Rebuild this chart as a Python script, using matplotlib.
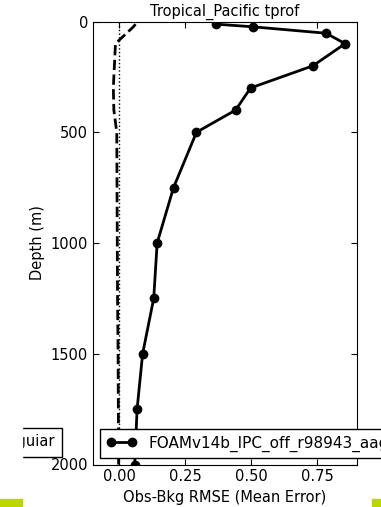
import numpy as np
import matplotlib
matplotlib.use("Agg")
import matplotlib.pyplot as plt
from matplotlib.patches import Rectangle

# depth levels (m) and statistics
depth = [12, 24, 53, 100, 200, 300, 400, 500, 750, 1000, 1250, 1500, 1750, 2000]
rmse = [0.367, 0.506, 0.783, 0.855, 0.733, 0.497, 0.44, 0.292, 0.205, 0.143,
        0.13, 0.088, 0.067, 0.058]
mean_err = [0.061, 0.053, 0.027, -0.015, -0.019, -0.023, -0.021, -0.01,
            -0.009, -0.008, -0.007, -0.005, -0.004, -0.003]
run_label = "FOAMv14b_IPC_off_r98943_aaguiar"
xticks = [0.0, 0.25, 0.5, 0.75]
yticks = [0, 500, 1000, 1500, 2000]

plt.rcParams['font.size'] = 10.5
plt.rcParams['xtick.direction'] = 'in'
plt.rcParams['ytick.direction'] = 'in'
plt.rcParams['xtick.top'] = True
plt.rcParams['ytick.right'] = True

fig = plt.figure(figsize=(3.81, 5.07), dpi=100)
ax = fig.add_axes([93 / 381, 1 - 464.5 / 507, (357 - 93) / 381, (464.5 - 21.5) / 507])

ax.axvline(0, color='k', ls=':', lw=1)
l_me, = ax.plot(mean_err, depth, 'k--', lw=2, label=run_label)
l_rm, = ax.plot(rmse, depth, 'k-o', lw=2, ms=6, label=run_label)

ax.set_xlim(-0.1, 0.9)
ax.set_ylim(2000, 0)
ax.set_xticks(xticks)
ax.set_xticklabels(['%.2f' % t for t in xticks])
ax.set_yticks(yticks)
ax.tick_params(length=4, width=0.8)
ax.set_xlabel('Obs-Bkg RMSE (Mean Error)')
ax.set_ylabel('Depth (m)')
ax.set_title('Tropical_Pacific tprof', fontsize=10.5, pad=4)

leg_kw = dict(fancybox=False, framealpha=1, edgecolor='k', numpoints=2,
              borderaxespad=0)
fig.legend(handles=[l_me], loc='upper right', fontsize=10.5, borderpad=0.45,
           bbox_to_anchor=(61.7 / 381, 1 - 427.5 / 507), **leg_kw)
fig.legend(handles=[l_rm], loc='upper left', fontsize=11,
           bbox_to_anchor=(100 / 381, 1 - 429.3 / 507), **leg_kw)

# the left strip of the page is blank, with green markers in the bottom corners
fig.patches.append(Rectangle((0, 0), 21.7 / 381, 1, transform=fig.transFigure,
                             color='white', zorder=9))
fig.patches.append(Rectangle((0, 0), 22 / 381, 8 / 507, transform=fig.transFigure,
                             color='#bcd600', zorder=10))
fig.patches.append(Rectangle((372 / 381, 0), 9 / 381, 8 / 507, transform=fig.transFigure,
                             color='#bcd600', zorder=10))

fig.savefig('out.png', dpi=100)
